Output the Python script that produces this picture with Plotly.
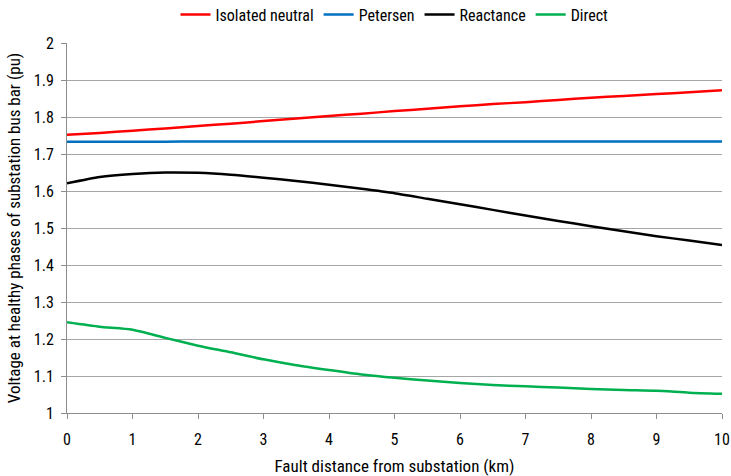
import plotly.graph_objects as go

distance_km = [0, 0.5, 1, 1.5, 2, 2.5, 3, 3.5, 4, 4.5, 5, 5.5, 6, 6.5, 7, 7.5, 8, 8.5, 9, 9.5, 10]

isolated_neutral = [1.752, 1.757, 1.763, 1.769, 1.776, 1.782, 1.789, 1.796, 1.803, 1.809, 1.816, 1.822, 1.829, 1.835, 1.840, 1.846, 1.852, 1.857, 1.862, 1.867, 1.872]
petersen = [1.733, 1.733, 1.733, 1.733, 1.734, 1.734, 1.734, 1.734, 1.734, 1.734, 1.734, 1.734, 1.734, 1.734, 1.734, 1.734, 1.734, 1.734, 1.734, 1.734, 1.734]
reactance = [1.621, 1.638, 1.646, 1.650, 1.649, 1.644, 1.636, 1.627, 1.617, 1.606, 1.594, 1.579, 1.564, 1.549, 1.534, 1.519, 1.505, 1.491, 1.478, 1.466, 1.454]
direct = [1.245, 1.233, 1.225, 1.203, 1.182, 1.164, 1.145, 1.129, 1.116, 1.104, 1.095, 1.088, 1.081, 1.076, 1.072, 1.069, 1.065, 1.062, 1.060, 1.055, 1.052]

series = [
    ("Isolated neutral", isolated_neutral, "#ff0000"),
    ("Petersen", petersen, "#0070c0"),
    ("Reactance", reactance, "#000000"),
    ("Direct", direct, "#00b050"),
]

x_ticks = list(range(0, 11))
y_ticks = [1, 1.1, 1.2, 1.3, 1.4, 1.5, 1.6, 1.7, 1.8, 1.9, 2]
y_tick_text = ["1", "1.1", "1.2", "1.3", "1.4", "1.5", "1.6", "1.7", "1.8", "1.9", "2"]

FONT = "Roboto Condensed, Liberation Sans Narrow, Arial Narrow, sans-serif"

fig = go.Figure()
for name, vals, color in series:
    fig.add_trace(go.Scatter(
        x=distance_km, y=vals, mode="lines", name=name,
        line=dict(color=color, width=2.5, shape="spline", smoothing=0.6),
    ))

fig.update_layout(
    width=731, height=476,
    margin=dict(l=67, r=9, t=43, b=63, autoexpand=False),
    paper_bgcolor="white", plot_bgcolor="white",
    font=dict(family=FONT, size=16, color="#000000"),
    legend=dict(orientation="h", x=0.5, xanchor="center", y=1.077, yanchor="middle",
                font=dict(size=16), itemwidth=30, tracegroupgap=0),
    showlegend=True,
)

fig.update_xaxes(
    range=[0, 10], tickvals=x_ticks, ticktext=[str(t) for t in x_ticks], automargin=False,
    showgrid=False, zeroline=False, showline=True, linecolor="#8c8c8c", linewidth=1,
    ticks="outside", ticklen=5, tickcolor="#8c8c8c", tickfont=dict(size=16),
    ticklabelstandoff=7,
    title=dict(text="Fault distance from substation (km)", font=dict(size=17), standoff=12),
)
fig.update_yaxes(
    range=[1, 2], tickvals=y_ticks, ticktext=y_tick_text, automargin=False,
    showgrid=True, gridcolor="#a6a6a6", gridwidth=1, zeroline=False,
    showline=True, linecolor="#8c8c8c", linewidth=1,
    ticks="outside", ticklen=5, tickcolor="#8c8c8c", tickfont=dict(size=16),
    ticklabelstandoff=4,
    title=dict(text="Voltage at healthy phases of substation bus bar (pu)", font=dict(size=17), standoff=8),
)

fig.write_html("out.html")
